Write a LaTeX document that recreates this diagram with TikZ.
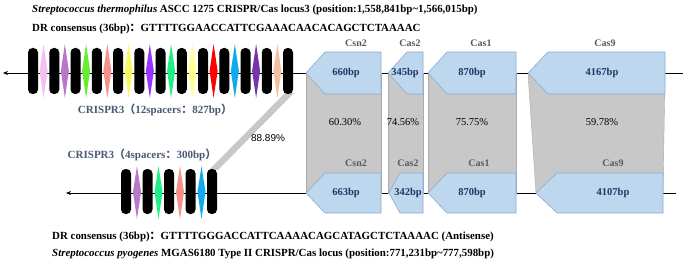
\documentclass[tikz,border=0pt]{standalone}
\usepackage{fontspec}
\setmainfont{Liberation Serif}
\newfontfamily\cjk{Noto Sans CJK SC}
\newfontfamily\arialfont{Liberation Sans}
\usetikzlibrary{arrows.meta}
\definecolor{geneblue}{HTML}{BDD7EE}
\definecolor{geneedge}{HTML}{8FAAD0}
\definecolor{genetext}{HTML}{1F3864}
\definecolor{homgray}{HTML}{C8C8C8}
\definecolor{crisprtext}{HTML}{4A5873}
\definecolor{genename}{HTML}{5A5A5A}
\definecolor{spLilac}{HTML}{F5C0F0}
\definecolor{spOrchid}{HTML}{B878C8}
\definecolor{spLime}{HTML}{66EE33}
\definecolor{spSalmon}{HTML}{F5908A}
\definecolor{spYellow}{HTML}{F8F860}
\definecolor{spViolet}{HTML}{9933FF}
\definecolor{spMint}{HTML}{22EE88}
\definecolor{spCream}{HTML}{FFFF8C}
\definecolor{spRed}{HTML}{FF0000}
\definecolor{spSky}{HTML}{11AAEE}
\definecolor{spPurple}{HTML}{7733AA}
\definecolor{spPeach}{HTML}{F5C0A0}

\begin{document}
\begin{tikzpicture}[x=1pt, y=-1pt,
    titletext/.style={anchor=west, inner sep=0pt, font=\fontsize{10.9}{12}\selectfont\bfseries},
    crisprtag/.style={inner sep=0pt, text=crisprtext, font=\fontsize{11}{12}\selectfont\bfseries},
    gene/.style={fill=geneblue, draw=geneedge, line width=0.6pt},
    homolog/.style={fill=homgray, draw=homgray!85!black, line width=0.4pt},
    genelen/.style={inner sep=0pt, text=genetext, font=\fontsize{10.5}{12}\selectfont\bfseries},
    genetag/.style={inner sep=0pt, text=genename, font=\fontsize{10}{12}\selectfont\bfseries},
    ident/.style={inner sep=0pt, font=\fontsize{10.5}{12}\selectfont},
    arr/.style={-{Stealth[length=5pt, width=4pt]}, line width=0.7pt}
  ]
  \useasboundingbox (0,0) rectangle (683,262);

  %% TITLES
  \node[titletext] (topname) at (32,10)
    {\textit{Streptococcus thermophilus} ASCC 1275 CRISPR/Cas locus3 (position:1,558,841bp\textasciitilde1,566,015bp)};
  \node[titletext] (topdr) at (32,29)
    {DR consensus (36bp){\cjk ：}GTTTTGGAACCATTCGAAACAACACAGCTCTAAAAC};
  \node[titletext] (botdr) at (52,237)
    {DR consensus (36bp){\cjk ：}GTTTTGGGACCATTCAAAACAGCATAGCTCTAAAAC (Antisense)};
  \node[titletext] (botname) at (52,254)
    {\textit{Streptococcus pyogenes} MGAS6180 Type II CRISPR/Cas locus (position:771,231bp\textasciitilde777,598bp)};

  %% BACKBONES
  \coordinate (topL) at (3,73);
  \coordinate (topR) at (683,73);
  \coordinate (botL) at (66,193);
  \coordinate (botR) at (676,193);
  \draw[arr] (topR) -- (topL);
  \draw[arr] (botR) -- (botL);

  %% CRISPR LINK
  \fill[homgray] (285,93) -- (294,93) -- (218,170) -- (209,170) -- cycle;
  \node[ident, font=\arialfont\fontsize{10}{12}\selectfont] (linkid) at (268,138) {88.89\%};

  %% CRISPR ARRAYS
  \foreach \c [count=\i from 0] in {spLilac,spOrchid,spLime,spSalmon,spYellow,spViolet,
                                    spMint,spCream,spRed,spSky,spPurple,spPeach}
    \fill[\c] ({43.6+21.25*\i},44) -- ({47.6+21.25*\i},71) -- ({43.6+21.25*\i},98)
      -- ({39.6+21.25*\i},71) -- cycle;
  \foreach \i in {0,...,12}
    \fill[rounded corners=4.5pt] ({28+21.25*\i},48) rectangle ++(10,46);
  \foreach \c [count=\i from 0] in {spOrchid,spMint,spSalmon,spSky}
    \fill[\c] ({137+21.5*\i},166) -- ({141+21.5*\i},192) -- ({137+21.5*\i},219)
      -- ({133+21.5*\i},192) -- cycle;
  \foreach \i in {0,...,4}
    \fill[rounded corners=4.5pt] ({121+21.5*\i},169) rectangle ++(10,45);
  \node[crisprtag] (toparray) at (155,110) {CRISPR3{\cjk （}12spacers{\cjk ：}827bp{\cjk ）}};
  \node[crisprtag] (botarray) at (142,155) {CRISPR3{\cjk （}4spacers{\cjk ：}300bp{\cjk ）}};

  %% HOMOLOGY SHADING
  \filldraw[homolog] (306,73) rectangle (381,193);
  \filldraw[homolog] (388,73) rectangle (423,193);
  \filldraw[homolog] (428,73) rectangle (516,193);
  \filldraw[homolog] (528,73) -- (665,73) -- (663,193) -- (536,193) -- cycle;

  %% GENES (TOP)
  \filldraw[gene] (306,73) -- (325,52) -- (381,52) -- (381,94) -- (325,94) -- cycle;
  \filldraw[gene] (388,73) -- (407,52) -- (423,52) -- (423,94) -- (407,94) -- cycle;
  \filldraw[gene] (428,73) -- (447,52) -- (516,52) -- (516,94) -- (447,94) -- cycle;
  \filldraw[gene] (528,73) -- (548,52) -- (665,52) -- (665,94) -- (548,94) -- cycle;

  %% GENES (BOTTOM)
  \filldraw[gene] (306,193) -- (325,173) -- (381,173) -- (381,213) -- (325,213) -- cycle;
  \filldraw[gene] (389,193) -- (400,173) -- (423,173) -- (423,213) -- (400,213) -- cycle;
  \filldraw[gene] (428,193) -- (447,173) -- (516,173) -- (516,213) -- (447,213) -- cycle;
  \filldraw[gene] (536,193) -- (557,173) -- (663,173) -- (663,213) -- (557,213) -- cycle;

  %% GENE LABELS
  \node[genetag] (csnA) at (356,43) {Csn2};
  \node[genetag] (casBA) at (410,43) {Cas2};
  \node[genetag] (casAA) at (481,43) {Cas1};
  \node[genetag] (casNA) at (605,43) {Cas9};
  \node[genelen] (csnAlen) at (346,73) {660bp};
  \node[genelen] (casBAlen) at (405,73) {345bp};
  \node[genelen] (casAAlen) at (472,73) {870bp};
  \node[genelen] (casNAlen) at (602,73) {4167bp};

  \node[genetag] (csnB) at (356,163) {Csn2};
  \node[genetag] (casBB) at (408,163) {Cas2};
  \node[genetag] (casAB) at (479,163) {Cas1};
  \node[genetag] (casNB) at (613,163) {Cas9};
  \node[genelen] (csnBlen) at (346,193) {663bp};
  \node[genelen] (casBBlen) at (408,193) {342bp};
  \node[genelen] (casABlen) at (472,193) {870bp};
  \node[genelen] (casNBlen) at (613,193) {4107bp};

  %% IDENTITIES
  \node[ident] (csnid) at (345,122) {60.30\%};
  \node[ident] (casBid) at (403,122) {74.56\%};
  \node[ident] (casAid) at (472,122) {75.75\%};
  \node[ident] (casNid) at (602,122) {59.78\%};
\end{tikzpicture}
\end{document}
